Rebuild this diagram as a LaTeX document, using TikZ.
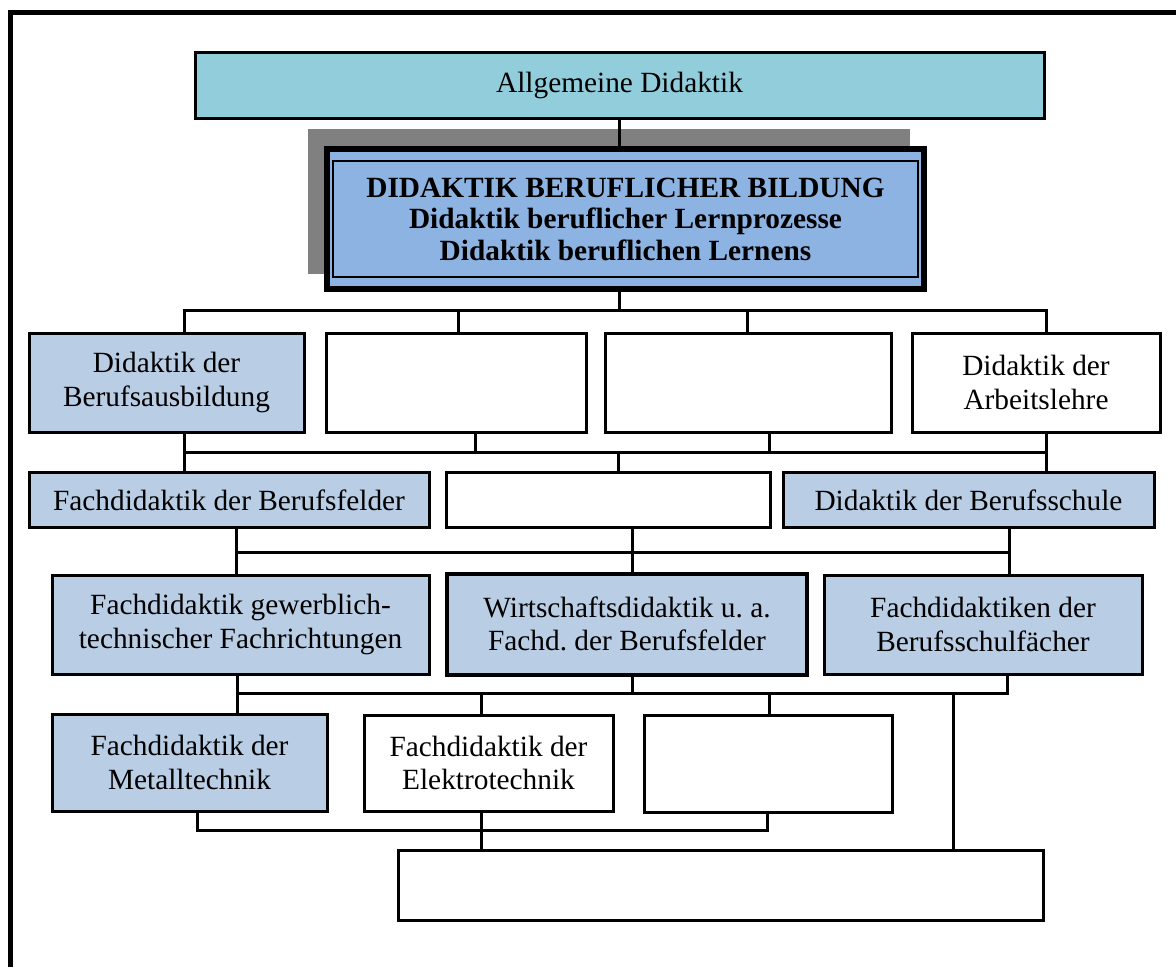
\documentclass[tikz,border=0pt]{standalone}
\usepackage{fontspec}
\setmainfont{Liberation Serif}
\usetikzlibrary{calc}
\definecolor{aqua}{RGB}{146,205,220}
\definecolor{mainblue}{RGB}{141,179,226}
\definecolor{lightblue}{RGB}{185,205,228}
\definecolor{shadowgray}{RGB}{128,128,128}
\begin{document}
\begin{tikzpicture}[x=0.75pt,y=-0.75pt,
  box/.style={draw=black, line width=2.25pt, inner sep=0pt, outer sep=0pt, align=center, font=\fontsize{22}{25}\selectfont},
  bluebox/.style={box, fill=lightblue},
  whitebox/.style={box, fill=white},
  sz/.style 2 args={minimum width=#1*0.75pt, minimum height=#2*0.75pt},
  conn/.style={draw=black, line width=2.25pt, line join=miter}
]
\useasboundingbox (0,0) rectangle (1176,967);
% outer frame
\draw[line width=3.75pt, line join=miter] (10,967) -- (10,12) -- (1176,12);

% top box
\node[box, fill=aqua, sz={849}{66}] (ad) at (619.5,85) {Allgemeine Didaktik};

% main box with shadow
\fill[shadowgray] (308,129) rectangle (910,274);
\node[box, line width=4.5pt, fill=mainblue, sz={597}{140}, font=\bfseries\fontsize{22}{23.6}\selectfont] (main) at (625.5,219)
  {DIDAKTIK BERUFLICHER BILDUNG\\Didaktik beruflicher Lernprozesse\\Didaktik beruflichen Lernens};
\draw[line width=1.5pt] ($(main.north west)+(6,12)$) rectangle ($(main.south east)+(-6,-12)$);

% row 1
\node[bluebox, sz={275}{99}] (b1) at (166.5,382.5) {Didaktik der\\Berufsausbildung};
\node[whitebox, sz={260}{99}] (b2) at (456,382.5) {};
\node[whitebox, sz={286}{99}] (b3) at (748,382.5) {};
\node[whitebox, sz={248}{99}] (b4) at (1036,382.5) {Didaktik der\\Arbeitslehre};

% row 2
\node[bluebox, sz={400}{55}] (r2a) at (229,500) {Fachdidaktik der Berufsfelder};
\node[whitebox, sz={324}{55}] (r2b) at (608,500) {};
\node[bluebox, sz={371}{55}] (r2c) at (968.5,500) {Didaktik der Berufsschule};

% row 3
\node[bluebox, sz={377}{99}] (r3a) at (240.5,624.5) {Fachdidaktik gewerblich-\\technischer Fachrichtungen};
\node[bluebox, line width=3pt, sz={360}{101}] (r3b) at (627,624) {Wirtschaftsdidaktik u.\ a.\\Fachd.\ der Berufsfelder};
\node[bluebox, sz={318}{99}] (r3c) at (983,624.5) {Fachdidaktiken der\\Berufsschulf\"acher};

% row 4
\node[bluebox, sz={275}{97}] (r4a) at (189.5,762.5) {Fachdidaktik der\\Metalltechnik};
\node[whitebox, sz={249}{96}] (r4b) at (488.5,763) {Fachdidaktik der\\Elektrotechnik};
\node[whitebox, sz={248}{97}] (r4c) at (768,763.5) {};

% bottom box
\node[whitebox, sz={645}{70}] (bot) at (720.5,885) {};

% connector coordinates
\coordinate (h1) at (619,310);
\coordinate (k1) at (184,310);
\coordinate (k2) at (458,310);
\coordinate (k4) at (747,310);
\coordinate (k5) at (1046,310);
\coordinate (m1) at (184,452);
\coordinate (m2) at (475,452);
\coordinate (m3) at (618,452);
\coordinate (m4) at (769,452);
\coordinate (m5) at (1046,452);
\coordinate (n1) at (236,552);
\coordinate (n2) at (632,552);
\coordinate (n3) at (1009,552);
\coordinate (p1) at (237,693);
\coordinate (p2) at (632,693);
\coordinate (p3) at (1007,693);
\coordinate (q1) at (481,693);
\coordinate (q2) at (769,693);
\coordinate (q3) at (953,693);
\coordinate (s1) at (197,830);
\coordinate (s2) at (481,830);
\coordinate (s3) at (767,830);

% connectors
\draw[conn] (ad.south -| h1) -- (main.north -| h1);
\draw[conn] (main.south -| h1) -- (h1);
\draw[conn] (b1.north -| k1) -- (k1) -- (k5) -- (b4.north -| k5);
\draw[conn] (k2) -- (b2.north -| k2);
\draw[conn] (k4) -- (b3.north -| k4);

\draw[conn] (b1.south -| m1) -- (r2a.north -| m1);
\draw[conn] (m1) -- (m5);
\draw[conn] (b4.south -| m5) -- (r2c.north -| m5);
\draw[conn] (b2.south -| m2) -- (m2);
\draw[conn] (b3.south -| m4) -- (m4);
\draw[conn] (m3) -- (r2b.north -| m3);

\draw[conn] (r2a.south -| n1) -- (r3a.north -| n1);
\draw[conn] (r2b.south -| n2) -- (r3b.north -| n2);
\draw[conn] (r2c.south -| n3) -- (r3c.north -| n3);
\draw[conn] (n1) -- (n3);

\draw[conn] (r3a.south -| p1) -- (r4a.north -| p1);
\draw[conn] (r3b.south -| p2) -- (p2);
\draw[conn] (r3c.south -| p3) -- (p3) -- (p1);
\draw[conn] (q1) -- (r4b.north -| q1);
\draw[conn] (q2) -- (r4c.north -| q2);
\draw[conn] (q3) -- (bot.north -| q3);

\draw[conn] (r4a.south -| s1) -- (s1) -- (s3) -- (r4c.south -| s3);
\draw[conn] (r4b.south -| s2) -- (bot.north -| s2);
\end{tikzpicture}
\end{document}
